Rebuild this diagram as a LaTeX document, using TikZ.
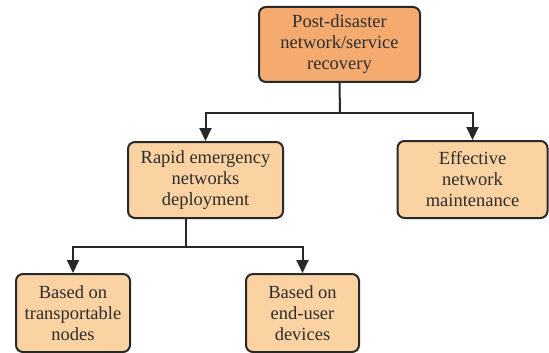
\documentclass[tikz,border=0pt]{standalone}
\usepackage{fontspec}
\setmainfont{Liberation Serif}
\newfontfamily\boxfont{Liberation Serif}
\usetikzlibrary{arrows.meta}
\definecolor{topfill}{RGB}{245,170,112}
\definecolor{boxfill}{RGB}{251,210,162}
\definecolor{edge}{RGB}{40,40,40}
\definecolor{txt}{RGB}{45,45,45}
\tikzset{
  box/.style={draw=edge, line width=2pt, rounded corners=7pt, fill=boxfill,
    text=txt, align=center, inner sep=0pt,
    font=\boxfont\fontsize{18.5}{21}\selectfont},
  conn/.style={draw=edge, line width=2pt},
  arr/.style={conn, -{Triangle[length=13pt,width=12pt]}}
}
\begin{document}
\begin{tikzpicture}[x=1pt,y=-1pt]
\useasboundingbox (0,0) rectangle (549,353);
\node[box, fill=topfill, minimum width=161pt, minimum height=75pt] (top) at (339.5,44.5) {Post-disaster\\network/service\\recovery};
\node[box, minimum width=155pt, minimum height=76pt] (rapid) at (205.5,180) {Rapid emergency\\networks\\deployment};
\node[box, minimum width=150pt, minimum height=77pt] (eff) at (472.5,179.5) {Effective\\network\\maintenance};
\node[box, minimum width=114pt, minimum height=78pt] (bl) at (73,313) {Based on\\transportable\\nodes};
\node[box, minimum width=113pt, minimum height=78pt] (br) at (302.5,313) {Based on\\end-user\\devices};
\coordinate (j1) at (340,112.5);
\coordinate (j2) at (186,247);
\draw[conn] (top.south) -- (j1);
\draw[arr] (j1) -| (rapid.north);
\draw[arr] (j1) -| (eff.north);
\draw[conn] (rapid.south -| j2) -- (j2);
\draw[arr] (j2) -| (bl.north);
\draw[arr] (j2) -| (br.north);
\end{tikzpicture}
\end{document}
